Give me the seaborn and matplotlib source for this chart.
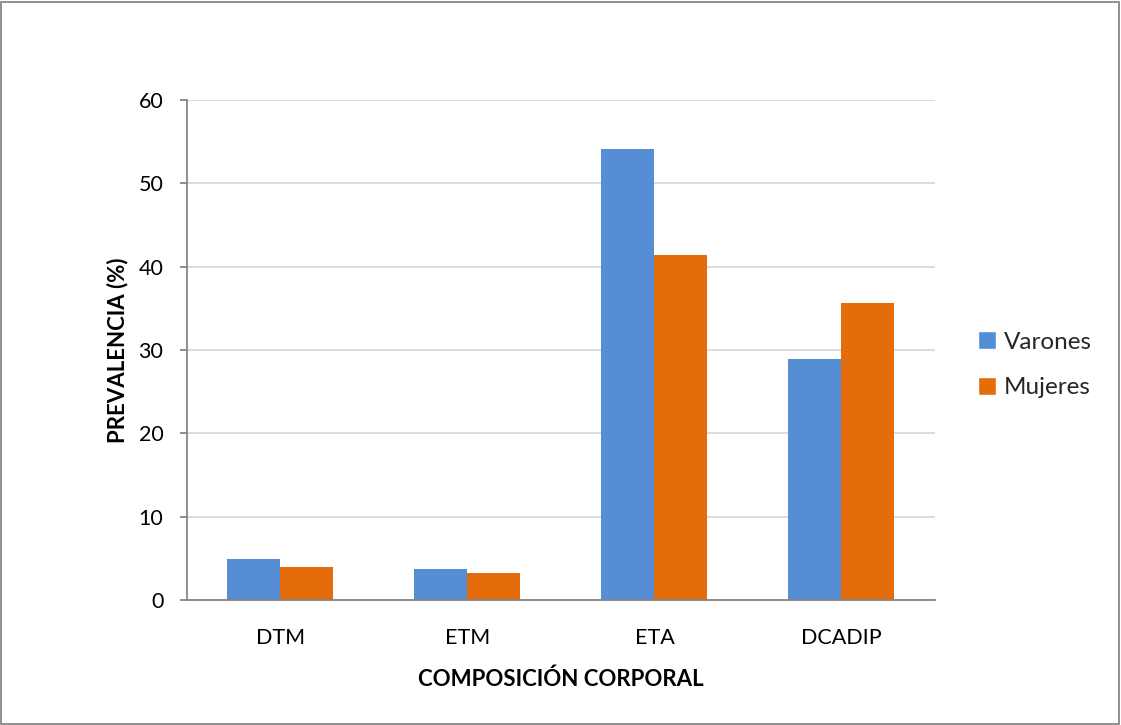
import matplotlib
matplotlib.use("Agg")
import matplotlib.pyplot as plt
import pandas as pd
import seaborn as sns
from matplotlib.patches import Rectangle

categories = ["DTM", "ETM", "ETA", "DCADIP"]
series_names = ["Varones", "Mujeres"]
varones = [4.9, 3.7, 54.1, 28.9]
mujeres = [4.0, 3.2, 41.4, 35.6]
y_ticks = [0, 10, 20, 30, 40, 50, 60]

COLORS = {"Varones": "#558ED5", "Mujeres": "#E46C0A"}
GRID = "#D9D9D9"
AXIS = "#868686"
INK = "#000000"

df = pd.DataFrame({
    "categoria": categories * 2,
    "sexo": [series_names[0]] * len(categories) + [series_names[1]] * len(categories),
    "prevalencia": varones + mujeres,
})

sns.set_theme(style="white")
plt.rcParams["font.family"] = ["Lato", "DejaVu Sans"]

fig = plt.figure(figsize=(11.21, 7.25), dpi=100)
ax = fig.add_axes([0.1668, 0.1724, 0.6672, 0.6897])

sns.barplot(
    data=df,
    x="categoria",
    y="prevalencia",
    hue="sexo",
    hue_order=series_names,
    palette=COLORS,
    saturation=1,
    width=0.567,
    linewidth=0,
    legend=False,
    ax=ax,
)

ax.set_ylim(0, 60)
ax.set_xlim(-0.5, len(categories) - 0.5)
ax.set_yticks(y_ticks)
ax.yaxis.grid(True, color=GRID, linewidth=1.3)
ax.set_axisbelow(True)

for side in ["top", "right"]:
    ax.spines[side].set_visible(False)
for side in ["left", "bottom"]:
    ax.spines[side].set_color(AXIS)
    ax.spines[side].set_linewidth(1.3)

ax.tick_params(axis="y", direction="out", length=5, width=1.3, color=AXIS,
               labelsize=15.5, pad=12, left=True, labelcolor=INK)
ax.tick_params(axis="x", length=0, labelsize=15.5, pad=20, labelcolor=INK)

ax.set_ylabel("PREVALENCIA (%)", fontsize=16, fontweight="bold", color=INK)
ax.set_xlabel("COMPOSICIÓN CORPORAL", fontsize=16, fontweight="bold", color=INK)
ax.yaxis.set_label_coords(-0.079, 0.5)
ax.xaxis.set_label_coords(0.5, -0.136)

handles = [Rectangle((0, 0), 1, 1, facecolor=COLORS[name]) for name in series_names]
fig.legend(
    handles,
    series_names,
    loc="center left",
    bbox_to_anchor=(0.853, 0.497),
    frameon=False,
    fontsize=17.5,
    handlelength=0.75,
    handleheight=0.75,
    handletextpad=0.3,
    labelspacing=1.0,
)

fig.patches.append(Rectangle((0.001, 0.001), 0.997, 0.996, transform=fig.transFigure,
                             fill=False, edgecolor=AXIS, linewidth=1.3))

fig.savefig("out.png", dpi=100)
